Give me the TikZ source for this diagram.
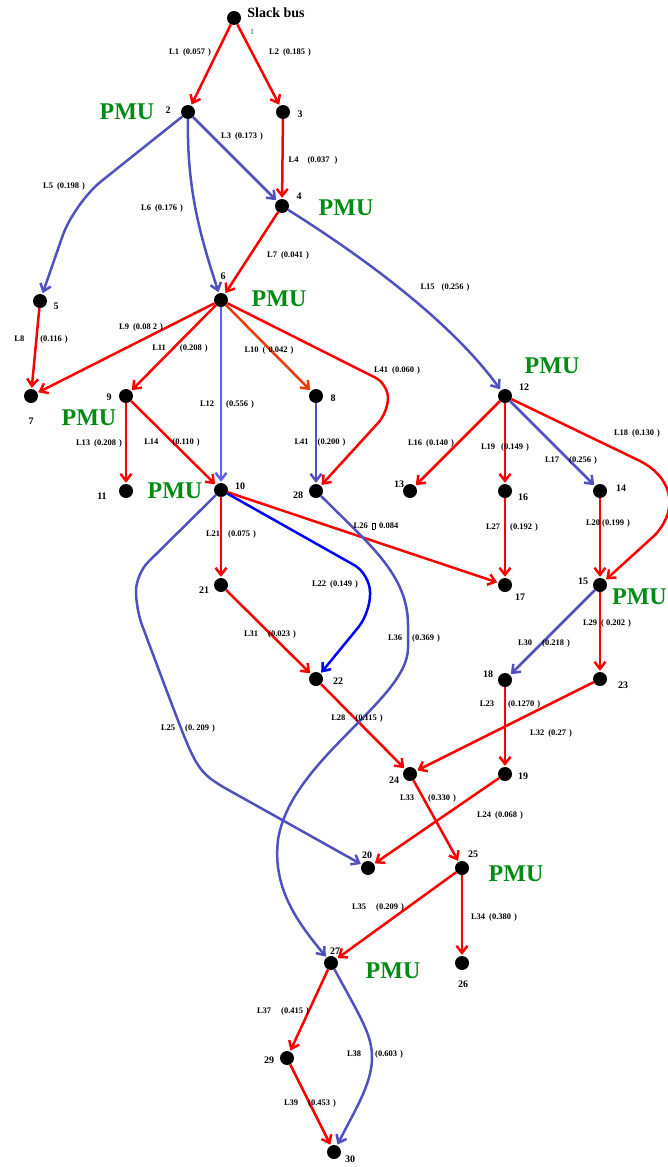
\documentclass[tikz,border=0pt]{standalone}
\usepackage{fontspec}
\setmainfont{Liberation Serif}
\usetikzlibrary{arrows.meta}
\definecolor{lnred}{RGB}{255,0,0}
\definecolor{lnblue}{RGB}{80,80,190}
\definecolor{lnblueb}{RGB}{95,95,245}
\definecolor{lnbluec}{RGB}{0,0,255}
\definecolor{lnorange}{RGB}{235,60,10}
\definecolor{pmugreen}{RGB}{0,140,20}
\definecolor{numteal}{RGB}{40,80,80}
\newcommand\lgap[1]{\hspace{#1pt}}
\newcommand\missingglyph{{\setlength\fboxsep{0pt}\setlength\fboxrule{0.4pt}\fbox{\rule{0pt}{5.5pt}\hspace{2.5pt}}}}
\begin{document}
\begin{tikzpicture}[x=1pt,y=-1pt,
  bus/.style={circle,fill=black,inner sep=0pt,minimum size=14pt},
  num/.style={font=\fontsize{10}{10}\selectfont\bfseries,inner sep=0pt},
  lab/.style={font=\fontsize{8.5}{8.5}\selectfont\bfseries,inner sep=0pt},
  pmu/.style={font=\fontsize{24}{24}\selectfont\bfseries,text=pmugreen,inner sep=0pt},
  ln/.style={line width=2.5pt,-{Straight Barb[length=7pt,width=11pt]},shorten >=1pt},
  redln/.style={ln,draw=lnred},
  blueln/.style={ln,draw=lnblue},
  bluebln/.style={ln,draw=lnblueb},
  bluecln/.style={ln,draw=lnbluec},
  orangeln/.style={ln,draw=lnorange}]
\useasboundingbox (0,0) rectangle (668,1167);
\clip (0,0) rectangle (668,1167);
% buses
\node[bus] (n1) at (234,18) {};
\node[bus] (n2) at (188,112) {};
\node[bus] (n3) at (283,112) {};
\node[bus] (n4) at (282,206) {};
\node[bus] (n5) at (40,301) {};
\node[bus] (n6) at (221,300) {};
\node[bus] (n7) at (31,396) {};
\node[bus] (n9) at (126,396) {};
\node[bus] (n8) at (316,396) {};
\node[bus] (n12) at (505,396) {};
\node[bus] (n10) at (221,490) {};
\node[bus] (n11) at (126,491) {};
\node[bus] (n28) at (316,491) {};
\node[bus] (n13) at (410,491) {};
\node[bus] (n16) at (505,491) {};
\node[bus] (n14) at (600,491) {};
\node[bus] (n21) at (221,585) {};
\node[bus] (n17) at (505,585) {};
\node[bus] (n15) at (600,585) {};
\node[bus] (n22) at (316,679) {};
\node[bus] (n18) at (505,680) {};
\node[bus] (n23) at (600,679) {};
\node[bus] (n24) at (410,774) {};
\node[bus] (n19) at (505,774) {};
\node[bus] (n20) at (368,868) {};
\node[bus] (n25) at (462,868) {};
\node[bus] (n27) at (331,963) {};
\node[bus] (n26) at (462,963) {};
\node[bus] (n29) at (287,1058) {};
\node[bus] (n30) at (334,1152) {};
% connectors
\draw[redln] (n1) -- (n2);
\draw[redln] (n1) -- (n3);
\draw[blueln] (n2) -- (n4);
\draw[redln] (n3) -- (n4);
\draw[blueln,rounded corners=35pt] (n2) -- (74,203) -- (n5);
\draw[blueln] (n2) .. controls (187,190) and (200,235) .. (n6);
\draw[redln] (n4) -- (n6);
\draw[blueln] (n4) .. controls (360,255) and (450,320) .. (n12);
\draw[redln] (n5) -- (n7);
\draw[redln] (n6) -- (n7);
\draw[redln] (n6) -- (n9);
\draw[bluebln] (n6) -- (n10);
\draw[orangeln] (n6) -- (n8);
\draw[redln,rounded corners=14pt] (n6) -- (388,384) -- (388,412) -- (n28);
\draw[redln] (n9) -- (n11);
\draw[redln] (n9) -- (n10);
\draw[blueln] (n8) -- (n28);
\draw[redln] (n12) -- (n13);
\draw[redln] (n12) -- (n16);
\draw[blueln] (n12) -- (n14);
\draw[redln] (n12) -- (640,461) .. controls (668,475) and (682,505) .. (655,535) -- (n15);
\draw[redln] (n14) -- (n15);
\draw[redln] (n16) -- (n17);
\draw[redln] (n10) -- (n17);
\draw[redln] (n10) -- (n21);
\draw[bluecln,rounded corners=18pt] (n10) -- (370,574) -- (370,613) -- (n22);
\draw[blueln,rounded corners=17pt] (n10) -- (136,574) -- (136,609) -- (165.6,688) .. controls (198,773) .. (250,802) -- (n20);
\draw[redln] (n21) -- (n22);
\draw[redln] (n22) -- (n24);
\draw[blueln] (n28) .. controls (370,545) and (408,575) .. (408,625) -- (408,648) .. controls (408,700) and (290,760) .. (278,840) .. controls (272,890) and (300,925) .. (n27);
\draw[redln] (n23) -- (n24);
\draw[blueln] (n15) -- (n18);
\draw[redln] (n15) -- (n23);
\draw[redln] (n18) -- (n19);
\draw[redln] (n19) -- (n20);
\draw[redln] (n24) -- (n25);
\draw[redln] (n25) -- (n26);
\draw[redln] (n25) -- (n27);
\draw[redln] (n27) -- (n29);
\draw[blueln] (n27) .. controls (362,1020) and (372,1035) .. (372,1058) .. controls (372,1085) and (352,1115) .. (n30);
\draw[redln] (n29) -- (n30);
% bus numbers
\node[font=\fontsize{14}{14}\selectfont\bfseries,inner sep=0pt] (slack) at (276,13) {Slack bus};
\node[font=\fontsize{8}{8}\selectfont,text=numteal,inner sep=0pt] (t1) at (252,32) {1};
\node[num] (t2) at (168,110) {2};
\node[num] (t3) at (300,114) {3};
\node[num] (t4) at (299,196) {4};
\node[num] (t5) at (56,306) {5};
\node[num] (t6) at (223,276) {6};
\node[num] (t7) at (31,421) {7};
\node[num] (t9) at (109,397) {9};
\node[num] (t8) at (333,398) {8};
\node[num] (t12) at (524,387) {12};
\node[num] (t11) at (102,496) {11};
\node[num] (t10) at (240,486) {10};
\node[num] (t28) at (298,495) {28};
\node[num] (t13) at (399,484) {13};
\node[num] (t16) at (523,497) {16};
\node[num] (t14) at (621,488) {14};
\node[num] (t21) at (204,590) {21};
\node[num] (t17) at (520,597) {17};
\node[num] (t15) at (583,581) {15};
\node[num] (t22) at (338,681) {22};
\node[num] (t18) at (488,674) {18};
\node[num] (t23) at (623,685) {23};
\node[num] (t24) at (394,780) {24};
\node[num] (t19) at (523,776) {19};
\node[num] (t20) at (367,855) {20};
\node[num] (t25) at (473,854) {25};
\node[num] (t26) at (463,984) {26};
\node[num] (t27) at (335,951) {27};
\node[num] (t29) at (269,1060) {29};
\node[num] (t30) at (350,1159) {30};
% PMU labels
\node[pmu] (p2) at (127,112) {PMU};
\node[pmu] (p4) at (346,208) {PMU};
\node[pmu] (p6) at (279,299) {PMU};
\node[pmu] (p9) at (89,418) {PMU};
\node[pmu] (p12) at (552,366) {PMU};
\node[pmu] (p10) at (175,491) {PMU};
\node[pmu,anchor=east] (p15) at (667,597) {PMU};
\node[pmu] (p25) at (516,874) {PMU};
\node[pmu] (p27) at (393,971) {PMU};
% line labels
\node[lab] (l1) at (190,52) {L1\lgap{4}(0.057\lgap{3})};
\node[lab] (l2) at (290,52) {L2\lgap{4}(0.185\lgap{3})};
\node[lab] (l3) at (242,136) {L3\lgap{4}(0.173\lgap{3})};
\node[lab] (l4) at (313,160) {L4\lgap{9}(0.037\lgap{5})};
\node[lab] (l5) at (64,186) {L5\lgap{4}(0.198\lgap{3})};
\node[lab] (l6) at (162,208) {L6\lgap{4}(0.176\lgap{3})};
\node[lab] (l7) at (288,255) {L7\lgap{4}(0.041\lgap{3})};
\node[lab] (l15) at (445,287) {L15\lgap{7}(0.256\lgap{3})};
\node[lab] (l8) at (41,339) {L8\lgap{16}(0.116\lgap{3})};
\node[lab] (l9) at (141,327) {L9\lgap{4}(0.08\lgap{2}2\lgap{3})};
\node[lab] (l11) at (180,348) {L11\lgap{14}(0.208\lgap{3})};
\node[lab] (l10) at (269,350) {L10\lgap{4}(\lgap{3}0.042\lgap{3})};
\node[lab] (l41a) at (397,370) {L41\lgap{4}(0.060\lgap{3})};
\node[lab] (l12) at (227,404) {L12\lgap{12}(0.556\lgap{3})};
\node[lab] (l13) at (99,443) {L13\lgap{4}(0.208\lgap{3})};
\node[lab] (l14) at (172,442) {L14\lgap{14}(0.110\lgap{3})};
\node[lab] (l41b) at (320,442) {L41\lgap{9}(0.200\lgap{3})};
\node[lab] (l16) at (431,443) {L16\lgap{4}(0.140\lgap{3})};
\node[lab] (l19) at (505,447) {L19\lgap{6}(0.149\lgap{3})};
\node[lab] (l17) at (571,460) {L17\lgap{10}(0.256\lgap{3})};
\node[lab] (l18) at (637,433) {L18\lgap{4}(0.130\lgap{3})};
\node[lab] (l21) at (231,534) {L21\lgap{8}(0.075\lgap{3})};
\node[lab] (l22) at (335,584) {L22\lgap{4}(0.149\lgap{3})};
\node[lab] (l26) at (376,526) {L26\lgap{4}\missingglyph\lgap{4}0.084};
\node[lab] (l27) at (512,527) {L27\lgap{10}(0.192\lgap{3})};
\node[lab] (l20) at (608,523) {L20\lgap{2}(0.199\lgap{3})};
\node[lab] (l29) at (607,623) {L29\lgap{4}(\lgap{2}0.202\lgap{3})};
\node[lab] (l30) at (544,643) {L30\lgap{10}(0.218\lgap{3})};
\node[lab] (l36) at (414,638) {L36\lgap{10}(0.369\lgap{3})};
\node[lab] (l31) at (270,634) {L31\lgap{10}(0.023\lgap{3})};
\node[lab] (l23) at (510,704) {L23\lgap{14}(0.1270\lgap{3})};
\node[lab] (l32) at (551,733) {L32\lgap{4}(0.27\lgap{3})};
\node[lab] (l28) at (357,718) {L28\lgap{10}(0.115\lgap{3})};
\node[lab] (l25) at (188,728) {L25\lgap{10}(0.\lgap{2}209\lgap{3})};
\node[lab] (l33) at (428,798) {L33\lgap{14}(0.330\lgap{3})};
\node[lab] (l24) at (500,815) {L24\lgap{4}(0.068\lgap{3})};
\node[lab] (l35) at (378,907) {L35\lgap{10}(0.209\lgap{3})};
\node[lab] (l34) at (494,917) {L34\lgap{4}(0.380\lgap{3})};
\node[lab] (l37) at (283,1011) {L37\lgap{10}(0.415\lgap{3})};
\node[lab] (l38) at (375,1054) {L38\lgap{14}(0.603\lgap{3})};
\node[lab] (l39) at (310,1103) {L39\lgap{10}(0.453\lgap{3})};
\end{tikzpicture}
\end{document}
